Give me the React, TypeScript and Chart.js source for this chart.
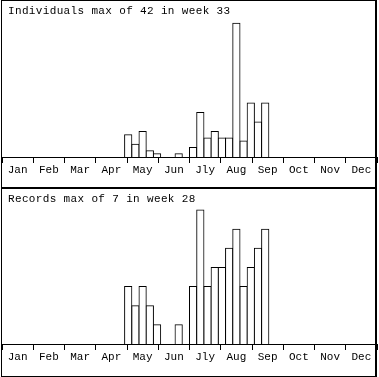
import React, { useEffect, useRef } from "react";
import { Chart, registerables } from "chart.js";

Chart.register(...registerables);

const months = ["Jan", "Feb", "Mar", "Apr", "May", "Jun", "Jly", "Aug", "Sep", "Oct", "Nov", "Dec"];

const weeks = [
  "1", "2", "3", "4", "5", "6", "7", "8", "9", "10", "11", "12", "13",
  "14", "15", "16", "17", "18", "19", "20", "21", "22", "23", "24", "25", "26",
  "27", "28", "29", "30", "31", "32", "33", "34", "35", "36", "37", "38", "39",
  "40", "41", "42", "43", "44", "45", "46", "47", "48", "49", "50", "51", "52",
];

const individuals = [
  0, 0, 0, 0, 0, 0, 0, 0, 0, 0, 0, 0, 0,
  0, 0, 0, 0, 7, 4, 8, 2, 1, 0, 0, 1, 0,
  3, 14, 6, 8, 6, 6, 42, 5, 17, 11, 17, 0, 0,
  0, 0, 0, 0, 0, 0, 0, 0, 0, 0, 0, 0, 0,
];

const records = [
  0, 0, 0, 0, 0, 0, 0, 0, 0, 0, 0, 0, 0,
  0, 0, 0, 0, 3, 2, 3, 2, 1, 0, 0, 1, 0,
  3, 7, 3, 4, 4, 5, 6, 3, 4, 5, 6, 0, 0,
  0, 0, 0, 0, 0, 0, 0, 0, 0, 0, 0, 0, 0,
];

const individualsTitle = "Individuals max of 42 in week 33";
const recordsTitle = "Records max of 7 in week 28";

const FONT = "'Liberation Mono', 'DejaVu Sans Mono', monospace";

const panelTitlePlugin = {
  id: "panelTitle",
  afterDraw(chart: any, _args: any, opts: any) {
    const ctx = chart.ctx;
    ctx.save();
    ctx.font = `11px ${FONT}`;
    (ctx as any).letterSpacing = "0.35px";
    ctx.fillStyle = "#000";
    ctx.textAlign = "left";
    ctx.textBaseline = "middle";
    ctx.fillText(opts.text, opts.x, opts.y);
    ctx.restore();
  },
};

type PanelProps = {
  top: number;
  height: number;
  values: number[];
  yMax: number;
  title: string;
  axisHeight: number;
};

function Panel({ top, height, values, yMax, title, axisHeight }: PanelProps) {
  const ref = useRef<HTMLCanvasElement | null>(null);

  useEffect(() => {
    if (!ref.current) return;
    const chart = new Chart(ref.current, {
      type: "bar",
      data: {
        labels: weeks,
        datasets: [
          {
            data: values,
            backgroundColor: "#ffffff",
            borderColor: "#000000",
            borderWidth: 1,
            inflateAmount: 0.5,
            barPercentage: 1,
            categoryPercentage: 1,
            xAxisID: "x",
            yAxisID: "y",
          } as any,
        ],
      },
      options: {
        animation: false,
        responsive: false,
        devicePixelRatio: 1,
        layout: { padding: { left: 2, right: 2, top: 1, bottom: 0 } },
        plugins: {
          legend: { display: false },
          tooltip: { enabled: false },
          title: { display: false },
          panelTitle: { text: title, x: 8, y: 11 },
        } as any,
        scales: {
          x: {
            type: "category",
            display: false,
            offset: true,
          },
          m: {
            type: "category",
            axis: "x",
            position: "bottom",
            labels: months,
            offset: true,
            grid: {
              offset: true,
              drawOnChartArea: false,
              tickLength: 6,
              color: "#000",
              lineWidth: 1,
            },
            border: { display: true, color: "#000", width: 1 },
            ticks: {
              color: "#000",
              font: { family: FONT, size: 11 },
              maxRotation: 0,
              autoSkip: false,
              padding: 0,
            },
            afterFit: (scale: any) => {
              scale.height = axisHeight;
            },
          } as any,
          y: {
            display: false,
            min: 0,
            max: yMax,
          },
        },
      },
      plugins: [panelTitlePlugin],
    });
    return () => chart.destroy();
  }, []);

  return (
    <>
      <canvas
        ref={ref}
        width={379}
        height={height}
        style={{ position: "absolute", left: 0, top, width: 379, height }}
      />
      <div
        style={{
          position: "absolute",
          left: 1,
          top,
          width: 376,
          height: height === 188 ? 188 : 189,
          boxSizing: "border-box",
          border: "1px solid #000",
          borderRightWidth: 2,
          pointerEvents: "none",
        }}
      />
    </>
  );
}

export default function App() {
  return (
    <div style={{ position: "absolute", left: 0, top: 0, width: 379, height: 377, background: "#fff" }}>
      <Panel top={0} height={188} values={individuals} yMax={49} title={individualsTitle} axisHeight={31} />
      <Panel top={188} height={189} values={records} yMax={8.1} title={recordsTitle} axisHeight={33} />
    </div>
  );
}
